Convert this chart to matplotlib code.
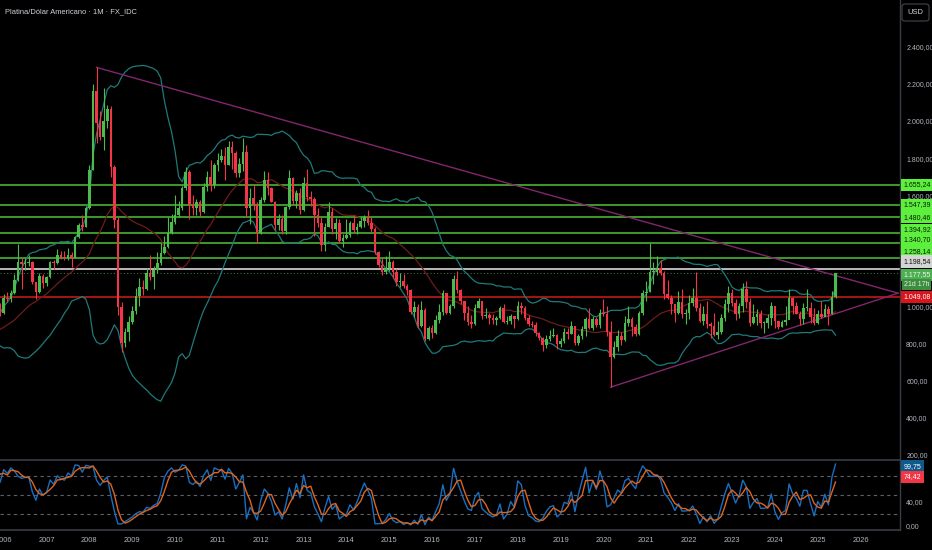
import numpy as np
import pandas as pd
import matplotlib
matplotlib.use("Agg")
import matplotlib.pyplot as plt
from matplotlib.transforms import blended_transform_factory
from matplotlib.patches import FancyBboxPatch

plt.rcParams['font.family'] = ['Liberation Sans', 'DejaVu Sans']

# monthly bars, Jan 2004 .. Jun 2025 (x index 0 = Jan 2006)
first_open = 845
closes = [
    850, 860, 905, 845, 815, 795, 815, 850, 865, 845, 860, 860,
    855, 870, 865, 870, 875, 885, 875, 895, 930, 925, 975, 962,
    1045, 1040, 1070, 1140, 1240, 1225, 1232, 1238, 1128, 1075, 1165, 1125,
    1155, 1238, 1232, 1275, 1265, 1258, 1275, 1262, 1375, 1440, 1430, 1530,
    1735, 2160, 1990, 1915, 2000, 2065, 1750, 1465, 995, 800, 860, 915,
    975, 1055, 1105, 1090, 1180, 1155, 1195, 1232, 1286, 1320, 1395, 1455,
    1495, 1530, 1640, 1725, 1545, 1530, 1565, 1510, 1645, 1700, 1655, 1760,
    1790, 1810, 1765, 1860, 1825, 1720, 1770, 1835, 1530, 1585, 1545, 1395,
    1575, 1680, 1640, 1565, 1440, 1470, 1405, 1535, 1690, 1570, 1610, 1520,
    1665, 1590, 1577, 1492, 1450, 1330, 1430, 1510, 1418, 1450, 1350, 1370,
    1385, 1450, 1413, 1425, 1460, 1480, 1450, 1416, 1290, 1222, 1185, 1205,
    1240, 1185, 1131, 1135, 1110, 1085, 970, 995, 895, 980, 820, 880,
    855, 924, 969, 1069, 962, 1000, 1145, 1085, 1025, 965, 915, 905,
    990, 1025, 945, 950, 935, 925, 935, 990, 915, 920, 945, 930,
    1000, 990, 935, 905, 900, 855, 830, 790, 820, 840, 845, 795,
    810, 860, 850, 890, 800, 840, 875, 930, 880, 930, 900, 965,
    960, 860, 725, 780, 840, 815, 910, 930, 885, 850, 965, 1070,
    1075, 1185, 1185, 1205, 1180, 1065, 1045, 1010, 965, 1020, 960, 965,
    1015, 1045, 990, 920, 955, 905, 890, 845, 860, 935, 1010, 1070,
    1015, 955, 1000, 1090, 1020, 910, 940, 960, 910, 910, 935, 1000,
    920, 885, 915, 925, 1045, 1000, 960, 930, 990, 990, 940, 910,
    960, 940, 985, 955, 1050, 1177.55,
]
highs = [
    860, 880, 935, 940, 850, 820, 830, 860, 875, 880, 870, 870,
    870, 875, 880, 880, 885, 895, 890, 900, 935, 940, 985, 1015,
    1065, 1075, 1085, 1175, 1335, 1260, 1260, 1275, 1245, 1130, 1180, 1175,
    1165, 1245, 1250, 1310, 1300, 1300, 1315, 1290, 1380, 1450, 1490, 1540,
    1760, 2200, 2290, 2055, 2180, 2085, 2080, 1760, 1480, 1020, 880, 945,
    1000, 1100, 1150, 1140, 1205, 1275, 1215, 1290, 1340, 1380, 1480, 1500,
    1600, 1570, 1650, 1750, 1735, 1600, 1580, 1575, 1665, 1730, 1790, 1775,
    1830, 1850, 1860, 1890, 1890, 1840, 1800, 1910, 1870, 1640, 1655, 1560,
    1590, 1730, 1725, 1645, 1570, 1500, 1490, 1540, 1735, 1700, 1630, 1640,
    1700, 1740, 1620, 1590, 1530, 1480, 1450, 1560, 1530, 1475, 1470, 1390,
    1470, 1460, 1490, 1450, 1480, 1490, 1520, 1480, 1430, 1300, 1260, 1270,
    1300, 1250, 1200, 1180, 1175, 1120, 1095, 1030, 1010, 1025, 990, 895,
    900, 950, 1010, 1085, 1070, 1010, 1170, 1190, 1090, 1030, 1000, 950,
    1010, 1045, 1030, 990, 965, 960, 945, 1000, 1010, 945, 960, 945,
    1030, 1020, 1000, 950, 920, 915, 860, 835, 845, 870, 880, 850,
    830, 880, 880, 920, 895, 850, 890, 940, 990, 945, 940, 985,
    1040, 1000, 920, 810, 870, 860, 945, 1000, 940, 905, 975, 1085,
    1135, 1340, 1240, 1270, 1250, 1190, 1140, 1060, 1010, 1080, 1095, 985,
    1060, 1100, 1185, 1015, 1000, 1030, 915, 965, 920, 955, 1040, 1110,
    1090, 1040, 1015, 1125, 1135, 1045, 1010, 985, 980, 920, 955, 1020,
    1000, 920, 925, 1000, 1090, 1050, 1020, 975, 1015, 1090, 1020, 990,
    980, 1025, 1010, 1000, 1080, 1178,
]
lows = [
    810, 840, 850, 800, 790, 780, 790, 805, 840, 830, 835, 840,
    845, 850, 855, 855, 860, 870, 860, 870, 890, 915, 920, 945,
    960, 1020, 1020, 1065, 1135, 1090, 1195, 1215, 1120, 1040, 1070, 1100,
    1110, 1150, 1200, 1225, 1255, 1250, 1250, 1210, 1260, 1370, 1405, 1425,
    1525, 1735, 1880, 1900, 1845, 1960, 1700, 1420, 950, 750, 780, 810,
    905, 960, 1000, 1060, 1085, 1140, 1090, 1180, 1220, 1280, 1315, 1390,
    1445, 1480, 1520, 1630, 1470, 1490, 1490, 1485, 1505, 1620, 1620, 1640,
    1730, 1780, 1680, 1760, 1740, 1700, 1700, 1730, 1480, 1445, 1520, 1340,
    1390, 1560, 1600, 1560, 1410, 1410, 1390, 1390, 1525, 1550, 1530, 1500,
    1515, 1570, 1540, 1380, 1430, 1300, 1300, 1425, 1390, 1360, 1340, 1320,
    1360, 1375, 1395, 1390, 1420, 1425, 1440, 1400, 1280, 1210, 1170, 1175,
    1190, 1150, 1110, 1105, 1100, 1060, 960, 940, 880, 885, 810, 815,
    830, 850, 910, 950, 960, 955, 990, 1070, 1010, 925, 900, 880,
    900, 990, 930, 935, 905, 905, 900, 930, 910, 905, 905, 880,
    925, 960, 925, 890, 885, 840, 815, 755, 775, 810, 835, 770,
    780, 800, 825, 850, 790, 790, 825, 840, 875, 870, 885, 880,
    945, 840, 562, 720, 755, 790, 810, 890, 840, 840, 845, 950,
    1025, 1075, 1120, 1170, 1170, 1040, 1040, 955, 915, 955, 935, 905,
    930, 1000, 975, 915, 900, 880, 830, 840, 820, 850, 920, 970,
    1000, 925, 935, 970, 990, 890, 905, 900, 880, 855, 880, 900,
    880, 875, 885, 900, 940, 955, 955, 900, 905, 975, 910, 900,
    905, 935, 950, 900, 960, 1045,
]
# monthly bars open where the previous month closed
opens = [first_open] + closes[:-1]

green_levels = [1655.24, 1547.39, 1480.46, 1394.92, 1340.70, 1258.14]
white_level = 1198.54
red_level = 1049.08
last_price = 1177.55
countdown = "21d 17h"
k_last = 99.75
d_last = 74.42

# trendlines: (month index from Jan 2006, price)
upper_trend_x = [26, 250.5]
upper_trend_y = [2290, 1070]
lower_trend_x = [170, 250.5]
lower_trend_y = [562, 1070]

price_ticks = [2400, 2200, 2000, 1800, 1600, 1000, 800, 600, 400, 200]
osc_ticks = [0, 40]
osc_bands = [20, 50, 80]
years = list(range(2006, 2027))

BG = '#000000'
TXT = '#b2b5be'
UP = '#4cbb4c'
DN = '#f23645'
SEP = '#3a3d46'
FS = 5.0
# label nudges (points) so stacked price tags don't collide
green_nudge = [0, 0, 0, 2.2, 2.4, 5.0]


def br(v):
    s = f"{v:,.2f}"
    return s.replace(',', 'X').replace('.', ',').replace('X', '.')


x = np.arange(len(closes)) - 24
o = np.array(opens, float)
c = np.array(closes, float)
h = np.array(highs, float)
l = np.array(lows, float)

s = pd.Series(c)
basis = s.rolling(20).mean()
sd = s.rolling(20).std(ddof=0)
bb_up = basis + 2 * sd
bb_dn = basis - 2 * sd

# stochastic 14, 1, 3
hh = pd.Series(h).rolling(14, min_periods=1).max()
ll = pd.Series(l).rolling(14, min_periods=1).min()
k = 100 * (s - ll) / (hh - ll)
d = k.rolling(3, min_periods=1).mean()

fig = plt.figure(figsize=(9.32, 5.5), dpi=100, facecolor=BG)
W, H = 932, 550
ax = fig.add_axes([0, 1 - 460 / H, 900 / W, 460 / H], facecolor=BG)
ax2 = fig.add_axes([0, 20 / H, 900 / W, 69 / H], facecolor=BG, sharex=ax)

xlim = (-1.04, 251.06)
ax.set_xlim(*xlim)
ax.set_ylim(168.6, 2654)
ax2.set_ylim(-6.45, 104.8)

# horizontal levels
for lv in green_levels:
    ax.axhline(lv, color='#43a62c', lw=1.3, zorder=1)
ax.axhline(white_level, color='#c8c8c8', lw=1.3, zorder=1)
ax.axhline(last_price, color='#3b6b3b', lw=0.8, ls=(0, (1, 2)), zorder=1)
ax.axhline(red_level, color='#b01818', lw=1.3, zorder=1)

# bollinger
ax.plot(x, bb_up, color='#1f7a7a', lw=0.9, zorder=2)
ax.plot(x, bb_dn, color='#1f7a7a', lw=0.9, zorder=2)
ax.plot(x, basis, color='#6e1c1c', lw=0.9, zorder=2)

# trendlines
ax.plot(upper_trend_x, upper_trend_y, color='#82266e', lw=1.0, zorder=3)
ax.plot(lower_trend_x, lower_trend_y, color='#82266e', lw=1.0, zorder=3)

# candles
up = c >= o
col = np.where(up, UP, DN)
ax.vlines(x, l, h, colors=col, lw=0.8, zorder=4)
ax.bar(x, np.maximum(np.abs(c - o), 3), bottom=np.minimum(o, c), width=0.72,
       color=col, linewidth=0, zorder=5)

# stochastic pane
for b in osc_bands:
    ax2.axhline(b, color='#5d606b', lw=0.8, ls=(0, (3, 3)))
ax2.plot(x, k, color='#1a6fc0', lw=1.0)
ax2.plot(x, d, color='#e0641c', lw=1.0)

for a in (ax, ax2):
    for side in ('top', 'left'):
        a.spines[side].set_visible(False)
    a.spines['right'].set_color(SEP)
    a.spines['bottom'].set_color(SEP)
    a.spines['right'].set_linewidth(1)
    a.spines['bottom'].set_linewidth(1.2)
    a.yaxis.tick_right()
    a.tick_params(axis='y', length=0, pad=4.5, labelsize=FS, labelcolor=TXT)

ax.set_yticks(price_ticks)
ax.set_yticklabels([br(v) for v in price_ticks])
ax2.set_yticks(osc_ticks)
ax2.set_yticklabels([br(v) for v in osc_ticks])

ax.tick_params(axis='x', bottom=False, labelbottom=False)
ax2.set_xticks([(y - 2006) * 12 for y in years])
ax2.set_xticklabels([str(y) for y in years])
ax2.tick_params(axis='x', length=0, pad=5, labelsize=5.4, labelcolor=TXT)
ax2.set_xlim(*xlim)


def tag(a, val, text, fc, tc, dy=0, pad=0.38):
    t = blended_transform_factory(a.transAxes, a.transData)
    a.annotate(text, xy=(1.004, val), xycoords=t, xytext=(0, dy),
               textcoords='offset points', fontsize=FS, color=tc,
               va='center', ha='left', annotation_clip=False,
               bbox=dict(boxstyle=f'square,pad={pad}', fc=fc, ec='none'))


for lv, nud in zip(green_levels, green_nudge):
    tag(ax, lv, br(lv), '#5cf03c', '#0b1a0b', dy=nud)
tag(ax, white_level, br(white_level), '#d4d4d4', '#111111', dy=5.6)
tag(ax, last_price, br(last_price), '#4caf50', '#f0f0f0', dy=-1.0)
tag(ax, last_price, countdown, '#3d8f40', '#e8e8e8', dy=-7.8, pad=0.3)
tag(ax, red_level, br(red_level), '#d8141c', '#ffffff')
tag(ax2, k_last, br(k_last), '#0f5a8c', '#ffffff', dy=-1.8)
tag(ax2, d_last, br(d_last), '#f23645', '#ffffff', dy=2.1)

fig.text(5 / W, 1 - 12 / H, 'Platina/Dólar Americano · 1M · FX_IDC',
         fontsize=5.4, color='#d1d4dc', va='center', ha='left')
box = FancyBboxPatch((902 / W, 1 - 21 / H), 27 / W, 17 / H,
                     boxstyle='round,pad=0,rounding_size=0.004',
                     transform=fig.transFigure, fc=BG, ec='#434651', lw=0.8)
fig.patches.append(box)
fig.text(915.5 / W, 1 - 12.5 / H, 'USD', fontsize=5.4, color='#d1d4dc',
         va='center', ha='center')

fig.savefig('out.png', dpi=100, facecolor=BG)
